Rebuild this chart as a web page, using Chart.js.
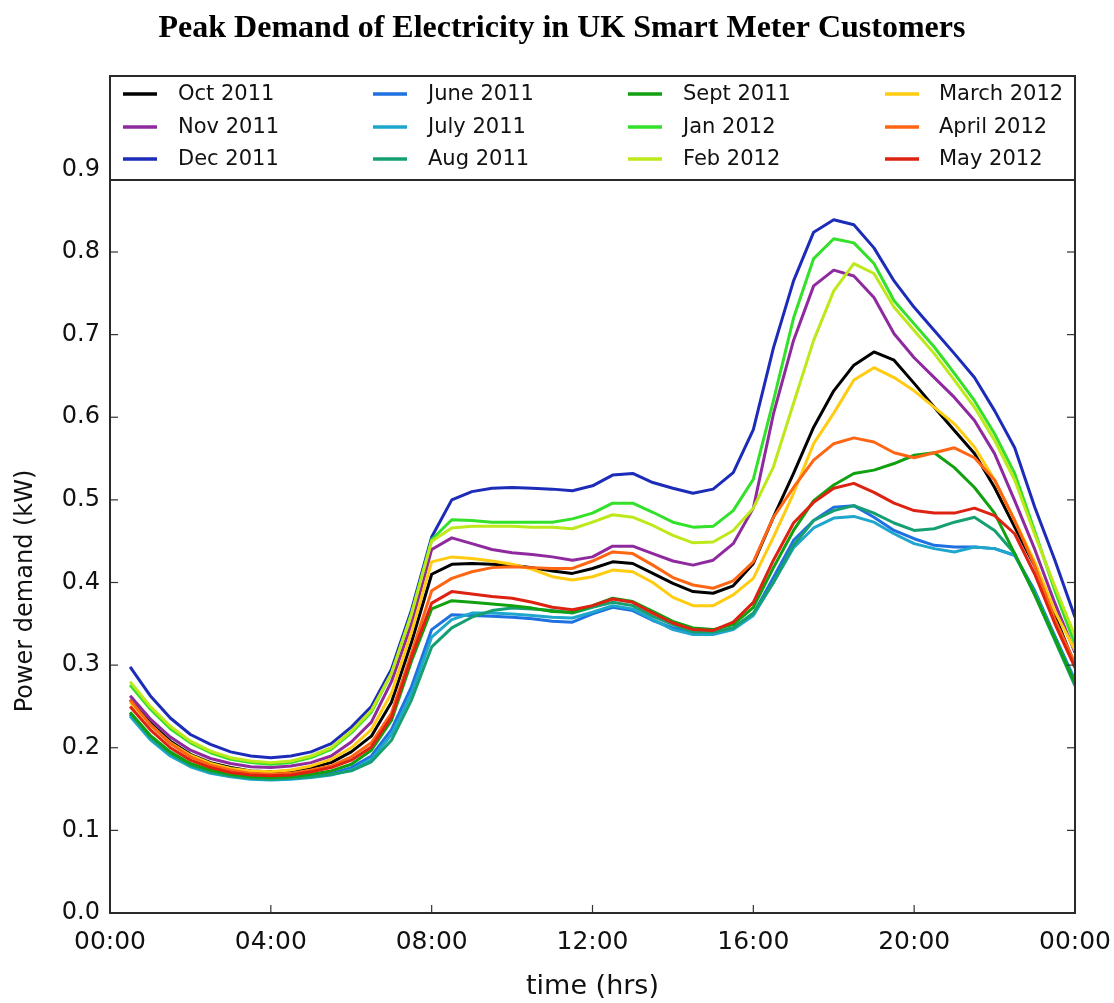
<!DOCTYPE html>
<html>
<head>
<meta charset="utf-8">
<script src="https://cdn.jsdelivr.net/npm/chart.js@4"></script>
<style>
  html, body { margin: 0; padding: 0; background: #fff; }
  canvas { display: block; }
</style>
</head>
<body>
<canvas id="Chart" width="1114" height="1003"></canvas>
<script>
// half-hourly readings, 00:30 .. 24:00
const times = [0.5, 1, 1.5, 2, 2.5, 3, 3.5, 4, 4.5, 5, 5.5, 6, 6.5, 7, 7.5, 8,
  8.5, 9, 9.5, 10, 10.5, 11, 11.5, 12, 12.5, 13, 13.5, 14, 14.5, 15, 15.5, 16,
  16.5, 17, 17.5, 18, 18.5, 19, 19.5, 20, 20.5, 21, 21.5, 22, 22.5, 23, 23.5, 24];

const xTickHours = [0, 4, 8, 12, 16, 20, 24];
const xTickLabels = ["00:00", "04:00", "08:00", "12:00", "16:00", "20:00", "00:00"];
const yTickValues = [0, 0.1, 0.2, 0.3, 0.4, 0.5, 0.6, 0.7, 0.8, 0.9];
const yTickLabels = ["0.0", "0.1", "0.2", "0.3", "0.4", "0.5", "0.6", "0.7", "0.8", "0.9"];

const months = ["Oct 2011", "Nov 2011", "Dec 2011", "June 2011", "July 2011", "Aug 2011",
  "Sept 2011", "Jan 2012", "Feb 2012", "March 2012", "April 2012", "May 2012"];
const colors = ["#000000", "#8e2a9e", "#1c2cb8", "#1f70e0", "#1fa6cc", "#14a070",
  "#10a010", "#33e02a", "#bde81a", "#ffcc11", "#ff6614", "#dd2211"];

const oct2011 = [0.258, 0.23, 0.208, 0.192, 0.182, 0.176, 0.172, 0.171, 0.172, 0.176, 0.182, 0.195, 0.214, 0.255, 0.328, 0.41,
  0.422, 0.423, 0.422, 0.421, 0.418, 0.414, 0.411, 0.417, 0.425, 0.423, 0.411, 0.399, 0.389, 0.387, 0.396, 0.423,
  0.479, 0.532, 0.588, 0.632, 0.663, 0.679, 0.669, 0.641, 0.612, 0.584, 0.556, 0.515, 0.467, 0.42, 0.36, 0.3];
const nov2011 = [0.263, 0.235, 0.213, 0.197, 0.187, 0.181, 0.177, 0.176, 0.178, 0.182, 0.19, 0.207, 0.231, 0.28, 0.35, 0.44,
  0.454, 0.447, 0.44, 0.436, 0.434, 0.431, 0.427, 0.431, 0.444, 0.444, 0.435, 0.426, 0.421, 0.427, 0.447, 0.49,
  0.604, 0.693, 0.759, 0.778, 0.771, 0.745, 0.701, 0.672, 0.648, 0.624, 0.596, 0.556, 0.499, 0.44, 0.375, 0.315];
const dec2011 = [0.298, 0.263, 0.236, 0.216, 0.204, 0.195, 0.19, 0.188, 0.19, 0.195, 0.205, 0.225, 0.25, 0.295, 0.367, 0.455,
  0.5, 0.51, 0.514, 0.515, 0.514, 0.513, 0.511, 0.517, 0.53, 0.532, 0.521, 0.514, 0.508, 0.513, 0.533, 0.585,
  0.684, 0.765, 0.824, 0.839, 0.833, 0.805, 0.765, 0.733, 0.705, 0.677, 0.648, 0.608, 0.563, 0.491, 0.427, 0.358];
const jun2011 = [0.24, 0.212, 0.192, 0.179, 0.171, 0.166, 0.164, 0.163, 0.164, 0.166, 0.169, 0.176, 0.19, 0.222, 0.274, 0.343,
  0.361, 0.36, 0.359, 0.358, 0.356, 0.353, 0.352, 0.362, 0.37, 0.366, 0.354, 0.345, 0.339, 0.339, 0.345, 0.362,
  0.406, 0.451, 0.475, 0.491, 0.493, 0.479, 0.463, 0.453, 0.445, 0.443, 0.443, 0.441, 0.433, 0.39, 0.335, 0.282];
const jul2011 = [0.238, 0.21, 0.19, 0.177, 0.169, 0.165, 0.162, 0.161, 0.162, 0.164, 0.167, 0.173, 0.186, 0.216, 0.266, 0.334,
  0.355, 0.363, 0.363, 0.362, 0.36, 0.358, 0.357, 0.364, 0.372, 0.368, 0.355, 0.343, 0.337, 0.337, 0.343, 0.36,
  0.4, 0.442, 0.466, 0.478, 0.48, 0.473, 0.459, 0.447, 0.441, 0.437, 0.443, 0.441, 0.433, 0.388, 0.333, 0.28];
const aug2011 = [0.242, 0.213, 0.193, 0.179, 0.171, 0.166, 0.163, 0.162, 0.163, 0.165, 0.168, 0.172, 0.183, 0.209, 0.258, 0.322,
  0.345, 0.358, 0.366, 0.369, 0.368, 0.366, 0.363, 0.37, 0.376, 0.372, 0.359, 0.349, 0.34, 0.34, 0.345, 0.363,
  0.4, 0.445, 0.475, 0.487, 0.493, 0.484, 0.472, 0.463, 0.465, 0.473, 0.479, 0.463, 0.435, 0.385, 0.33, 0.275];
const sep2011 = [0.243, 0.215, 0.195, 0.181, 0.173, 0.168, 0.165, 0.164, 0.165, 0.168, 0.172, 0.18, 0.197, 0.233, 0.305, 0.368,
  0.378, 0.376, 0.374, 0.372, 0.369, 0.365, 0.364, 0.372, 0.381, 0.377, 0.365, 0.353, 0.345, 0.343, 0.349, 0.37,
  0.418, 0.463, 0.499, 0.518, 0.532, 0.536, 0.544, 0.554, 0.557, 0.539, 0.515, 0.484, 0.435, 0.385, 0.332, 0.278];
const jan2012 = [0.276, 0.247, 0.223, 0.206, 0.194, 0.186, 0.182, 0.18, 0.182, 0.188, 0.198, 0.218, 0.243, 0.29, 0.363, 0.452,
  0.476, 0.475, 0.473, 0.473, 0.473, 0.473, 0.477, 0.484, 0.496, 0.496, 0.485, 0.473, 0.467, 0.468, 0.487, 0.525,
  0.62, 0.72, 0.792, 0.816, 0.811, 0.786, 0.741, 0.713, 0.685, 0.653, 0.62, 0.58, 0.532, 0.462, 0.39, 0.325];
const feb2012 = [0.28, 0.25, 0.226, 0.208, 0.196, 0.188, 0.184, 0.182, 0.184, 0.19, 0.2, 0.22, 0.245, 0.29, 0.362, 0.45,
  0.466, 0.468, 0.468, 0.468, 0.467, 0.467, 0.465, 0.473, 0.482, 0.479, 0.469, 0.457, 0.448, 0.449, 0.463, 0.49,
  0.54, 0.617, 0.693, 0.753, 0.786, 0.774, 0.733, 0.705, 0.677, 0.645, 0.612, 0.572, 0.524, 0.458, 0.395, 0.335];
const mar2012 = [0.255, 0.228, 0.206, 0.191, 0.181, 0.175, 0.172, 0.171, 0.173, 0.178, 0.186, 0.2, 0.222, 0.266, 0.34, 0.425,
  0.431, 0.429, 0.426, 0.422, 0.416, 0.407, 0.403, 0.407, 0.415, 0.413, 0.4, 0.382, 0.372, 0.372, 0.385, 0.405,
  0.455, 0.508, 0.568, 0.605, 0.645, 0.66, 0.648, 0.632, 0.612, 0.592, 0.564, 0.524, 0.475, 0.425, 0.365, 0.318];
const apr2012 = [0.258, 0.228, 0.205, 0.189, 0.179, 0.173, 0.169, 0.168, 0.169, 0.173, 0.178, 0.189, 0.206, 0.242, 0.315, 0.39,
  0.405, 0.413, 0.418, 0.419, 0.418, 0.417, 0.417, 0.426, 0.437, 0.435, 0.421, 0.406, 0.397, 0.393, 0.402, 0.425,
  0.479, 0.515, 0.548, 0.568, 0.575, 0.57, 0.557, 0.551, 0.557, 0.563, 0.551, 0.524, 0.475, 0.42, 0.355, 0.302];
const may2012 = [0.25, 0.222, 0.2, 0.185, 0.176, 0.17, 0.167, 0.166, 0.167, 0.171, 0.176, 0.185, 0.201, 0.237, 0.31, 0.375,
  0.389, 0.386, 0.383, 0.381, 0.376, 0.37, 0.367, 0.372, 0.38, 0.376, 0.363, 0.351, 0.343, 0.342, 0.352, 0.376,
  0.427, 0.472, 0.497, 0.514, 0.52, 0.509, 0.496, 0.487, 0.484, 0.484, 0.49, 0.481, 0.459, 0.41, 0.35, 0.297];

const series = [oct2011, nov2011, dec2011, jun2011, jul2011, aug2011,
  sep2011, jan2012, feb2012, mar2012, apr2012, may2012];

const FONT = "'DejaVu Sans', 'Liberation Sans', sans-serif";

// frame, inward ticks, legend box and labels
const decor = {
  id: "decor",
  afterDraw(chart) {
    const { ctx, chartArea: a, scales } = chart;
    const x = scales.x, y = scales.y;
    const line = (x1, y1, x2, y2) => {
      ctx.beginPath(); ctx.moveTo(x1, y1); ctx.lineTo(x2, y2); ctx.stroke();
    };
    ctx.save();
    ctx.strokeStyle = "#333";
    ctx.lineWidth = 1.2;
    xTickHours.forEach((h) => {
      const px = x.getPixelForValue(h);
      line(px, a.bottom, px, a.bottom - 8);
      line(px, a.top, px, a.top + 8);
    });
    yTickValues.forEach((v) => {
      const py = y.getPixelForValue(v);
      line(a.left, py, a.left + 8, py);
      line(a.right, py, a.right - 8, py);
    });

    // legend box sits on the top of the axes
    const legBottom = 180;
    ctx.fillStyle = "#fff";
    ctx.fillRect(a.left, a.top, a.right - a.left, legBottom - a.top);
    ctx.lineWidth = 2;
    ctx.strokeStyle = "#2a2a2a";
    line(a.left, legBottom, a.right, legBottom);

    const rows = [94, 127, 159];
    const sampleX = [123, 373, 628, 885];
    const textX = [178, 428, 683, 939];
    ctx.font = "21px " + FONT;
    ctx.textBaseline = "middle";
    ctx.textAlign = "left";
    months.forEach((m, i) => {
      const col = Math.floor(i / 3), row = i % 3;
      ctx.strokeStyle = colors[i];
      ctx.lineWidth = 3.5;
      line(sampleX[col], rows[row], sampleX[col] + 34, rows[row]);
      ctx.fillStyle = "#111";
      ctx.fillText(m, textX[col], rows[row] + 1);
    });

    // axes frame
    ctx.strokeStyle = "#2a2a2a";
    ctx.lineWidth = 2;
    ctx.strokeRect(a.left, a.top, a.right - a.left, a.bottom - a.top);

    // title and axis labels
    ctx.fillStyle = "#000";
    ctx.textAlign = "center";
    ctx.textBaseline = "alphabetic";
    ctx.font = "bold 32px 'Liberation Serif', 'Times New Roman', serif";
    ctx.fillText("Peak Demand of Electricity in UK Smart Meter Customers", 562, 37);

    ctx.font = "27px " + FONT;
    ctx.textBaseline = "middle";
    ctx.fillStyle = "#111";
    ctx.fillText("time (hrs)", (a.left + a.right) / 2, 987);

    ctx.translate(26, 591);
    ctx.rotate(-Math.PI / 2);
    ctx.font = "24px " + FONT;
    ctx.fillText("Power demand (kW)", 0, 0);
    ctx.restore();
  },
};

const datasets = series.map((s, i) => ({
  label: months[i],
  data: times.map((t, j) => ({ x: t, y: s[j] })),
  borderColor: colors[i],
  backgroundColor: colors[i],
  borderWidth: 3,
  pointRadius: 0,
  tension: 0,
  fill: false,
  borderJoinStyle: "round",
  order: months.length - i,
}));

new Chart(document.getElementById("Chart"), {
  type: "line",
  data: { datasets },
  options: {
    responsive: false,
    animation: false,
    devicePixelRatio: 1,
    layout: { padding: { top: 76, right: 39, bottom: 0, left: 0 } },
    plugins: {
      legend: { display: false },
      title: { display: false },
      tooltip: { enabled: false },
    },
    scales: {
      x: {
        type: "linear",
        min: 0,
        max: 24,
        afterFit: (scale) => {
          scale.height = 90;
          scale.paddingLeft = 0;
          scale.paddingRight = 0;
        },
        afterBuildTicks: (scale) => { scale.ticks = xTickHours.map((v) => ({ value: v })); },
        grid: { display: false, drawTicks: false },
        border: { display: false },
        ticks: {
          padding: 14,
          color: "#111",
          font: { family: FONT, size: 25 },
          maxRotation: 0,
          callback: (v, i) => xTickLabels[i],
        },
      },
      y: {
        min: 0,
        max: 1.013,
        afterFit: (scale) => {
          scale.width = 110;
          scale.paddingTop = 0;
          scale.paddingBottom = 0;
        },
        afterBuildTicks: (scale) => { scale.ticks = yTickValues.map((v) => ({ value: v })); },
        grid: { display: false, drawTicks: false },
        border: { display: false },
        ticks: {
          padding: 10,
          color: "#111",
          font: { family: FONT, size: 24 },
          callback: (v, i) => yTickLabels[i],
        },
      },
    },
  },
  plugins: [decor],
});
</script>
</body>
</html>
